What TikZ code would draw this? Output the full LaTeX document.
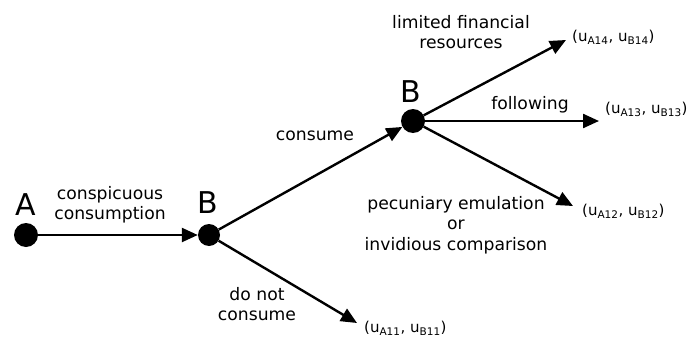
\documentclass[tikz,border=0pt]{standalone}
\usepackage{fontspec}
\setmainfont{DejaVu Sans}
\usetikzlibrary{arrows.meta}
\begin{document}
\begin{tikzpicture}[x=1pt,y=-1pt,
  dot/.style={circle,fill=black,minimum size=24pt,inner sep=0pt},
  arr/.style={line width=2.4pt,-{Triangle[length=16pt,width=14pt]}},
  lbl/.style={font=\fontsize{17.2}{20.5}\selectfont,align=center,inner sep=0pt},
  big/.style={font=\fontsize{30}{30}\selectfont,inner sep=0pt},
  pay/.style={font=\fontsize{15}{16}\selectfont,inner sep=0pt,anchor=west}]
\useasboundingbox (0,0) rectangle (699,340);
\node[dot] (A) at (26,235) {};
\node[dot,minimum size=22pt] (B1) at (209,235) {};
\node[dot] (B2) at (413,121) {};
\node[big] (lA) at (26,205) {A};
\node[big] (lB1) at (208,203) {B};
\node[big] (lB2) at (411,92) {B};
\coordinate (t14) at (566,40);
\coordinate (t13) at (599,121);
\coordinate (t12) at (573,206);
\coordinate (t11) at (357,323);
\node[pay] (p14) at (572,37) {(u\textsubscript{A14}, u\textsubscript{B14})};
\node[pay] (p13) at (605,109) {(u\textsubscript{A13}, u\textsubscript{B13})};
\node[pay] (p12) at (582,211) {(u\textsubscript{A12}, u\textsubscript{B12})};
\node[pay] (p11) at (364,328) {(u\textsubscript{A11}, u\textsubscript{B11})};
\draw[arr] (A) -- (B1);
\draw[arr] (B1) -- (B2);
\draw[arr] (B1) -- (t11);
\draw[arr] (B2) -- (t14);
\draw[arr] (B2) -- (t13);
\draw[arr] (B2) -- (t12);
\node[lbl] (cc) at (110,205) {conspicuous\\consumption};
\node[lbl] (co) at (315,136) {consume};
\node[lbl] (dn) at (257,304) {do not\\consume};
\node[lbl] (lf) at (461,32) {limited financial\\resources};
\node[lbl] (fo) at (530,105) {following};
\node[lbl] (pe) at (456,225) {pecuniary emulation\\or\\invidious comparison};
\end{tikzpicture}
\end{document}
